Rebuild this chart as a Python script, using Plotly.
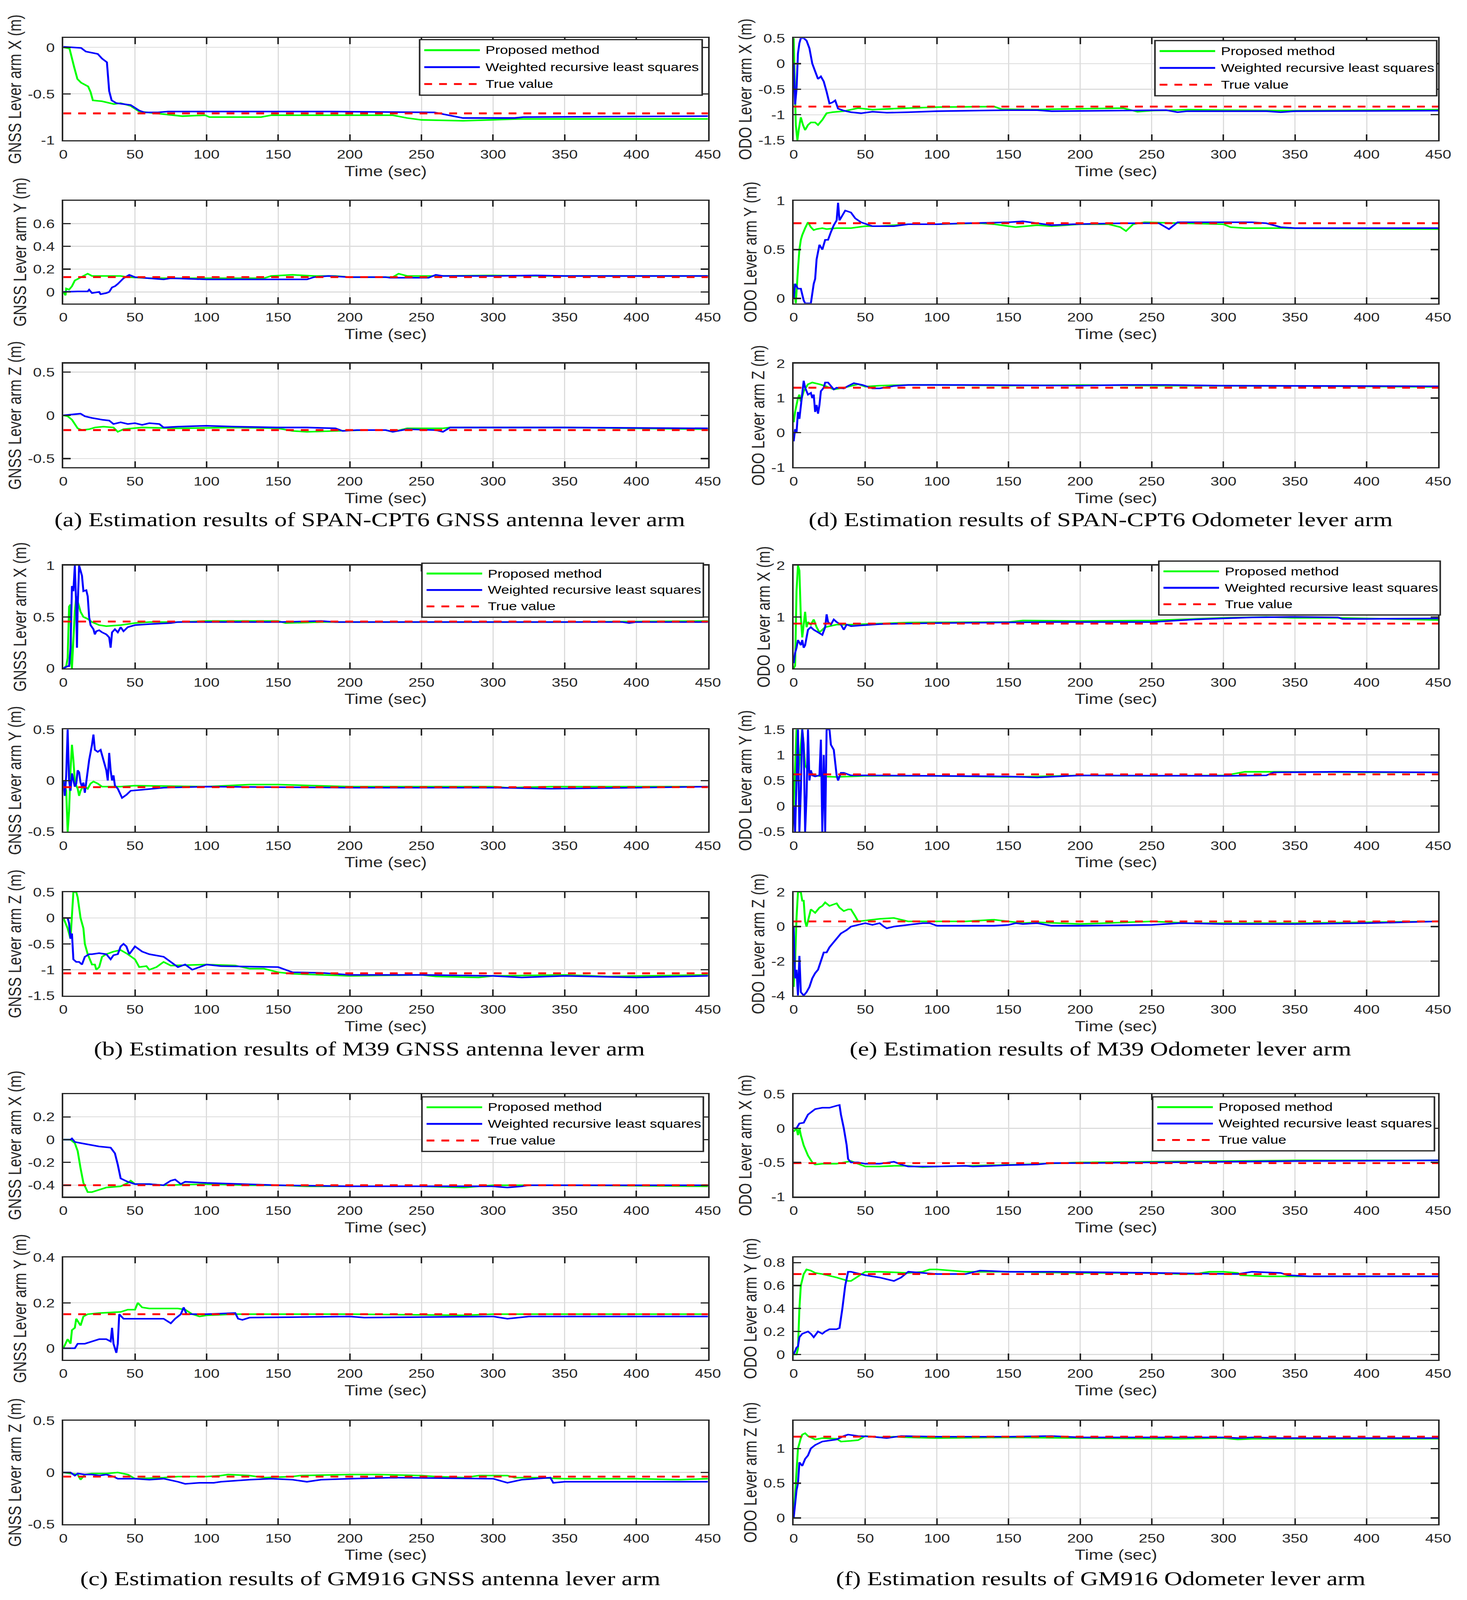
import plotly.graph_objects as go

W, H = 3756, 5089

# ---------------- data: (time s, value m) ----------------
# (a) SPAN-CPT6 GNSS antenna lever arm
a_x_prop = [(0, 0), (4.3, -0.013), (7.5, -0.21), (9.8, -0.34), (12.4, -0.38), (17.3, -0.42), (19, -0.48),
            (20.6, -0.57), (27, -0.58), (35.3, -0.61), (40, -0.6), (47, -0.63), (53, -0.69), (70, -0.72),
            (83, -0.74), (99, -0.73), (102, -0.75), (138, -0.75), (145, -0.73), (230, -0.73), (240, -0.76),
            (250, -0.78), (279, -0.79), (318, -0.77), (450, -0.77)]
a_x_wrls = [(0, 0.006), (12.4, -0.006), (15.7, -0.045), (24, -0.07), (27, -0.12), (30.4, -0.16), (32, -0.47),
            (33.7, -0.57), (37, -0.6), (47, -0.62), (53, -0.68), (56.6, -0.70), (66, -0.70), (73, -0.69),
            (122, -0.69), (187, -0.69), (259, -0.70), (266, -0.72), (279, -0.76), (315, -0.76), (321, -0.75),
            (450, -0.74)]
a_x_true = -0.71

a_y_prop = [(0, 0), (1.5, -0.03), (2, 0.03), (4, 0.02), (6, 0.05), (8, 0.1), (11, 0.12), (14, 0.14), (17, 0.16),
            (20, 0.14), (30, 0.14), (40, 0.14), (45, 0.13), (60, 0.12), (80, 0.12), (140, 0.12), (145, 0.14),
            (160, 0.15), (175, 0.14), (190, 0.14), (200, 0.13), (230, 0.13), (234, 0.16), (240, 0.14),
            (260, 0.14), (300, 0.145), (330, 0.14), (450, 0.14)]
a_y_wrls = [(0, 0), (10, 0.005), (17, 0.005), (18, 0.02), (20, -0.01), (25, 0), (26, -0.02), (30, -0.01), (32, 0),
            (34, 0.04), (36, 0.05), (38, 0.07), (42, 0.12), (46, 0.15), (50, 0.13), (60, 0.12), (70, 0.11),
            (75, 0.12), (100, 0.11), (140, 0.11), (170, 0.11), (175, 0.13), (185, 0.14), (200, 0.13), (225, 0.13),
            (228, 0.125), (255, 0.125), (260, 0.15), (265, 0.14), (300, 0.14), (330, 0.145), (350, 0.14),
            (450, 0.14)]
a_y_true = 0.13

a_z_prop = [(0, 0), (3, -0.01), (6, -0.05), (8, -0.1), (10, -0.15), (13, -0.17), (18, -0.16), (22, -0.14),
            (28, -0.13), (35, -0.14), (38, -0.19), (42, -0.16), (50, -0.15), (55, -0.14), (80, -0.15),
            (120, -0.14), (150, -0.15), (160, -0.18), (170, -0.19), (195, -0.18), (210, -0.17), (225, -0.17),
            (230, -0.19), (235, -0.17), (240, -0.15), (265, -0.15), (270, -0.14), (350, -0.14), (450, -0.16)]
a_z_wrls = [(0, 0), (5, 0.01), (12, 0.02), (15, -0.01), (20, -0.03), (27, -0.05), (32, -0.06), (35, -0.1),
            (40, -0.08), (45, -0.1), (50, -0.09), (55, -0.11), (60, -0.09), (67, -0.1), (70, -0.14), (80, -0.13),
            (100, -0.12), (120, -0.13), (150, -0.14), (170, -0.14), (190, -0.15), (195, -0.18), (205, -0.17),
            (225, -0.17), (230, -0.19), (240, -0.16), (260, -0.17), (265, -0.19), (270, -0.14), (350, -0.14),
            (450, -0.15)]
a_z_true = -0.17

# (d) SPAN-CPT6 odometer lever arm
d_x_prop = [(0, 0.5), (1.5, -1.2), (2.6, -1.5), (3.5, -1.3), (5, -1.05), (6.5, -1.2), (8, -1.3), (10, -1.2),
            (12, -1.15), (15, -1.15), (17, -1.2), (20, -1.1), (23, -0.97), (27, -0.95), (35, -0.93), (45, -0.87),
            (55, -0.9), (70, -0.88), (100, -0.85), (140, -0.84), (145, -0.89), (170, -0.9), (180, -0.89),
            (200, -0.88), (230, -0.87), (240, -0.94), (250, -0.92), (265, -0.91), (275, -0.9), (300, -0.91),
            (350, -0.92), (400, -0.91), (450, -0.9)]
d_x_wrls = [(0, 0), (1, -0.8), (2, -0.5), (3, 0.2), (4, 0.4), (5, 0.5), (7, 0.5), (9, 0.45), (11, 0.3), (13, 0.0),
            (15, -0.15), (17, -0.3), (19, -0.25), (21, -0.35), (23, -0.55), (25, -0.78), (27, -0.76), (29, -0.72),
            (31, -0.88), (35, -0.92), (40, -0.95), (47, -0.97), (55, -0.94), (65, -0.96), (80, -0.95),
            (100, -0.93), (150, -0.91), (170, -0.91), (180, -0.93), (230, -0.92), (260, -0.91), (268, -0.95),
            (275, -0.93), (330, -0.93), (340, -0.95), (350, -0.93), (450, -0.92)]
d_x_true = -0.84

d_y_prop = [(0, 0.15), (1.5, -0.05), (3, 0.3), (4, 0.5), (5, 0.6), (6, 0.65), (8, 0.72), (10, 0.78), (12, 0.73),
            (14, 0.7), (16, 0.71), (20, 0.72), (23, 0.71), (30, 0.72), (40, 0.72), (50, 0.74), (60, 0.74),
            (70, 0.75), (80, 0.76), (100, 0.76), (130, 0.77), (140, 0.76), (150, 0.74), (155, 0.73), (170, 0.75),
            (180, 0.74), (200, 0.76), (220, 0.76), (228, 0.73), (232, 0.69), (237, 0.76), (245, 0.78),
            (300, 0.76), (305, 0.73), (315, 0.72), (340, 0.72), (450, 0.71)]
d_y_wrls = [(0, 0), (1, 0.15), (3, 0.1), (5, 0.1), (7, -0.02), (8, -0.05), (12, -0.05), (14, 0.15), (15, 0.2),
            (16, 0.4), (18, 0.55), (20, 0.5), (22, 0.6), (24, 0.6), (26, 0.68), (28, 0.75), (30, 0.8), (31, 0.98),
            (32, 0.8), (34, 0.85), (36, 0.9), (40, 0.88), (43, 0.82), (47, 0.78), (55, 0.74), (70, 0.74),
            (80, 0.76), (100, 0.76), (120, 0.77), (150, 0.78), (160, 0.79), (170, 0.77), (180, 0.75), (195, 0.76),
            (230, 0.77), (255, 0.77), (262, 0.71), (268, 0.78), (320, 0.78), (330, 0.77), (340, 0.73),
            (350, 0.72), (450, 0.72)]
d_y_true = 0.77

d_z_prop = [(0, 0.3), (1, 0.6), (3, 1.0), (4, 1.1), (5, 0.9), (7, 1.2), (10, 1.4), (13, 1.45), (18, 1.4),
            (22, 1.35), (25, 1.3), (28, 1.25), (35, 1.3), (45, 1.4), (50, 1.33), (60, 1.36), (80, 1.38),
            (100, 1.38), (150, 1.36), (200, 1.38), (250, 1.36), (300, 1.36), (350, 1.35), (450, 1.32)]
d_z_wrls = [(0, -0.25), (1, 0.1), (2, 0.0), (3, 0.6), (4, 0.4), (5, 0.8), (6, 1.2), (7, 1.5), (8, 1.3), (10, 1.1),
            (12, 1.15), (13, 1.0), (14, 1.1), (15, 0.6), (16, 0.8), (17, 0.55), (18, 0.8), (19, 1.2), (21, 1.3),
            (22, 1.45), (24, 1.45), (26, 1.35), (28, 1.25), (30, 1.3), (35, 1.28), (38, 1.35), (42, 1.43),
            (48, 1.38), (55, 1.28), (60, 1.28), (65, 1.32), (70, 1.35), (80, 1.38), (120, 1.38), (200, 1.36),
            (230, 1.38), (260, 1.38), (300, 1.36), (450, 1.34)]
d_z_true = 1.30

# (b) M39 GNSS antenna lever arm
b_x_prop = [(0, 0), (2, 0.02), (3, 0.1), (4, 0.6), (5, 0.62), (5.5, 0.05), (6, 0), (7, 0.3), (8, 0.55), (9, 0.7),
            (10, 0.65), (12, 0.55), (14, 0.5), (17, 0.48), (20, 0.45), (25, 0.42), (30, 0.41), (40, 0.42),
            (50, 0.44), (60, 0.45), (80, 0.45), (100, 0.46), (150, 0.46), (155, 0.44), (180, 0.45), (250, 0.45),
            (350, 0.45), (450, 0.46)]
b_x_wrls = [(0, 0), (3, 0.02), (4, 0.02), (5, 0.2), (6, 0.8), (7, 0.75), (8, 1.0), (9, 0.6), (9.5, 0.2), (10, 0.6),
            (11, 1.0), (12, 0.95), (13, 0.9), (14, 0.75), (16, 0.76), (17, 0.7), (18, 0.5), (19, 0.42), (21, 0.38),
            (22, 0.33), (23, 0.36), (25, 0.37), (27, 0.35), (30, 0.33), (32, 0.3), (33, 0.2), (34, 0.35),
            (36, 0.38), (38, 0.35), (40, 0.4), (42, 0.36), (45, 0.4), (50, 0.42), (60, 0.43), (75, 0.44),
            (80, 0.45), (150, 0.45), (180, 0.46), (190, 0.45), (390, 0.45), (395, 0.44), (400, 0.45), (450, 0.45)]
b_x_true = 0.455

b_y_prop = [(0, 0), (2, -0.1), (3, -0.5), (4, -0.3), (5, 0.1), (6, 0.35), (7, 0.2), (8, 0.0), (9, -0.05),
            (10, -0.08), (11, -0.15), (12, -0.1), (14, -0.05), (17, -0.08), (19, -0.03), (21, -0.01), (24, -0.03),
            (27, -0.06), (40, -0.06), (50, -0.05), (100, -0.06), (130, -0.04), (150, -0.04), (200, -0.06),
            (300, -0.06), (310, -0.07), (340, -0.06), (450, -0.06)]
b_y_wrls = [(0, 0), (1, -0.15), (2, 0.05), (3, 0.5), (4, 0.0), (5, -0.1), (6, 0.07), (7, 0.0), (8, -0.06),
            (9, -0.03), (10, 0.1), (11, 0.08), (12, -0.02), (13, -0.06), (14, -0.02), (15, -0.12), (16, 0.0),
            (17, 0.1), (18, 0.2), (20, 0.35), (21, 0.45), (22, 0.3), (24, 0.28), (26, 0.3), (27, 0.25), (29, 0.15),
            (30, 0.1), (31, 0.0), (32, 0.27), (33, 0.1), (34, 0.0), (35, 0.05), (36, -0.05), (38, -0.08),
            (41, -0.17), (44, -0.14), (47, -0.1), (55, -0.09), (70, -0.07), (100, -0.06), (200, -0.07),
            (300, -0.07), (340, -0.08), (400, -0.07), (450, -0.06)]
b_y_true = -0.065

b_z_prop = [(0, 0), (3, -0.2), (5, -0.4), (6, 0), (7, 0.5), (9, 0.5), (10, 0.4), (12, 0.0), (14, -0.2), (15, -0.5),
            (17, -0.7), (20, -0.9), (22, -0.9), (23, -1.0), (25, -0.95), (27, -0.75), (30, -0.7), (35, -0.65),
            (40, -0.62), (45, -0.7), (50, -0.8), (53, -0.95), (58, -0.93), (60, -1.0), (65, -0.95), (70, -0.85),
            (75, -0.92), (100, -0.9), (120, -0.92), (130, -0.98), (140, -0.98), (150, -1.05), (160, -1.08),
            (200, -1.12), (250, -1.1), (260, -1.13), (290, -1.15), (300, -1.12), (350, -1.1), (380, -1.13),
            (450, -1.1)]
b_z_wrls = [(0, 0), (3, 0.0), (4, -0.1), (5, -0.4), (6, -0.3), (7, -0.8), (9, -0.85), (11, -0.85), (13, -0.9),
            (15, -0.75), (18, -0.7), (20, -0.7), (25, -0.68), (30, -0.7), (33, -0.8), (35, -0.72), (38, -0.7),
            (40, -0.55), (42, -0.5), (44, -0.55), (46, -0.7), (50, -0.55), (55, -0.65), (60, -0.7), (70, -0.75),
            (75, -0.85), (80, -0.95), (85, -0.9), (90, -1.0), (95, -0.95), (100, -0.9), (110, -0.93),
            (150, -0.95), (160, -1.05), (180, -1.06), (200, -1.1), (250, -1.1), (300, -1.12), (320, -1.15),
            (350, -1.12), (400, -1.15), (450, -1.12)]
b_z_true = -1.07

# (e) M39 odometer lever arm
e_x_prop = [(0, 0), (1, 0.05), (2, 1.5), (3, 2.0), (4, 1.9), (5, 1.0), (6, 0.6), (7, 0.9), (8, 1.1), (9, 0.8),
            (10, 0.9), (12, 0.85), (14, 0.95), (16, 0.8), (18, 0.7), (22, 0.8), (30, 0.85), (40, 0.85),
            (50, 0.86), (80, 0.89), (150, 0.9), (160, 0.93), (200, 0.92), (250, 0.93), (270, 0.95), (300, 0.98),
            (330, 1.0), (350, 0.98), (380, 0.98), (400, 0.97), (440, 0.95), (450, 0.94)]
e_x_wrls = [(0, 0.1), (1, 0.3), (2, 0.4), (3, 0.55), (4, 0.5), (5, 0.45), (6, 0.55), (7, 0.4), (8, 0.45),
            (10, 0.75), (12, 0.8), (14, 0.75), (17, 0.7), (20, 0.65), (22, 0.8), (23, 1.05), (24, 0.9), (26, 0.85),
            (28, 0.95), (30, 0.9), (33, 0.85), (35, 0.75), (37, 0.85), (40, 0.82), (50, 0.84), (60, 0.86),
            (100, 0.88), (150, 0.89), (180, 0.9), (250, 0.9), (280, 0.95), (320, 0.99), (350, 1.0), (380, 0.99),
            (383, 0.96), (400, 0.96), (450, 0.97)]
e_x_true = 0.87

e_y_prop = [(0, 0), (1, 0.8), (2, 1.5), (3, 0.5), (4, 0.9), (5, 1.2), (6, 1.5), (7, 1.2), (8, 0.8), (10, 0.7),
            (12, 0.65), (15, 0.6), (20, 0.58), (30, 0.57), (40, 0.58), (50, 0.59), (100, 0.59), (150, 0.57),
            (170, 0.58), (200, 0.6), (250, 0.59), (300, 0.6), (305, 0.62), (315, 0.67), (340, 0.67), (400, 0.66),
            (450, 0.66)]
e_y_wrls = [(0, 0.0), (1, -0.5), (2, 0.5), (3, 1.5), (4, -0.5), (5, 0.3), (6, 1.5), (7, 1.2), (8, -0.5), (9, 0.2),
            (10, 1.5), (11, 0.5), (12, 0.7), (13, 0.6), (15, 0.58), (18, 0.6), (19, 1.3), (20, -0.5), (21, 1.0),
            (22, -0.5), (23, 1.5), (25, 1.5), (26, 1.2), (28, 1.1), (30, 0.6), (31, 0.5), (33, 0.65), (35, 0.65),
            (40, 0.6), (50, 0.6), (100, 0.59), (150, 0.58), (170, 0.56), (200, 0.6), (300, 0.59), (330, 0.6),
            (335, 0.66), (380, 0.67), (450, 0.66)]
e_y_true = 0.62

e_z_prop = [(0, -3.5), (1, -2), (2, 0.5), (3, 2.0), (5, 2.0), (6, 1.5), (7, 1.5), (8, 0.3), (9, 0), (10, 0.3),
            (12, 1.0), (15, 0.8), (18, 1.1), (20, 1.2), (22, 1.4), (25, 1.2), (28, 1.3), (30, 1.35), (32, 1.1),
            (35, 0.9), (38, 1.0), (40, 1.0), (43, 0.6), (45, 0.3), (50, 0.35), (55, 0.4), (60, 0.45), (70, 0.5),
            (75, 0.4), (80, 0.3), (100, 0.3), (120, 0.3), (140, 0.4), (150, 0.3), (160, 0.2), (170, 0.25),
            (200, 0.15), (250, 0.3), (275, 0.2), (300, 0.2), (350, 0.2), (400, 0.25), (450, 0.3)]
e_z_wrls = [(0, 0), (1, -3), (2, -2.5), (3, -4), (4, -1.7), (5, -3.8), (7, -4), (9, -3.8), (11, -3.5), (13, -3.0),
            (15, -2.7), (17, -2.5), (19, -2.0), (21, -1.5), (23, -1.5), (25, -1.2), (27, -1.0), (30, -0.7),
            (33, -0.4), (37, -0.2), (40, 0), (45, 0.1), (50, 0.2), (55, 0.1), (60, 0.2), (63, 0.0), (65, -0.1),
            (70, 0.0), (80, 0.1), (90, 0.2), (95, 0.2), (100, 0.05), (140, 0.05), (150, 0.1), (155, 0.2),
            (160, 0.15), (170, 0.2), (180, 0.05), (200, 0.05), (250, 0.1), (270, 0.2), (300, 0.15), (350, 0.15),
            (400, 0.2), (450, 0.3)]
e_z_true = 0.3

# (c) GM916 GNSS antenna lever arm
c_x_prop = [(0, 0), (5, 0), (8, -0.03), (10, -0.1), (12, -0.25), (14, -0.38), (17, -0.46), (20, -0.46),
            (25, -0.44), (30, -0.42), (40, -0.41), (45, -0.38), (47, -0.36), (50, -0.39), (60, -0.39), (70, -0.4),
            (100, -0.39), (130, -0.4), (150, -0.4), (170, -0.41), (250, -0.41), (280, -0.42), (300, -0.4),
            (350, -0.4), (450, -0.41)]
c_x_wrls = [(0, 0), (5, 0), (6, 0.01), (8, -0.02), (12, -0.03), (20, -0.05), (25, -0.06), (33, -0.07),
            (36, -0.12), (38, -0.22), (40, -0.34), (45, -0.37), (50, -0.39), (60, -0.39), (70, -0.4), (75, -0.36),
            (78, -0.35), (82, -0.39), (85, -0.37), (100, -0.38), (125, -0.39), (150, -0.4), (200, -0.41),
            (300, -0.41), (310, -0.42), (320, -0.41), (325, -0.4), (450, -0.4)]
c_x_true = -0.4

c_y_prop = [(0, 0), (3, 0.04), (5, 0.02), (6, 0.08), (8, 0.09), (9, 0.13), (10, 0.12), (12, 0.1), (14, 0.14),
            (17, 0.15), (25, 0.155), (40, 0.16), (45, 0.17), (50, 0.17), (52, 0.2), (55, 0.18), (60, 0.175),
            (80, 0.175), (85, 0.17), (90, 0.15), (95, 0.14), (100, 0.145), (120, 0.15), (200, 0.15),
            (280, 0.145), (300, 0.15), (450, 0.15)]
c_y_wrls = [(0, 0), (8, 0.0), (10, 0.02), (15, 0.02), (20, 0.03), (25, 0.04), (30, 0.04), (33, 0.03), (34, 0.09),
            (35, 0.02), (37, -0.02), (38, 0.02), (39, 0.15), (42, 0.13), (70, 0.13), (75, 0.11), (78, 0.13),
            (80, 0.14), (82, 0.15), (84, 0.18), (86, 0.15), (100, 0.15), (120, 0.155), (122, 0.13), (125, 0.125),
            (130, 0.135), (200, 0.14), (210, 0.135), (300, 0.14), (310, 0.13), (325, 0.14), (450, 0.14)]
c_y_true = 0.15

c_z_prop = [(0, 0), (5, -0.01), (10, -0.02), (12, -0.07), (15, -0.02), (20, -0.01), (30, -0.01), (38, 0.0),
            (45, -0.02), (50, -0.06), (70, -0.05), (80, -0.04), (100, -0.04), (110, -0.03), (115, -0.02),
            (130, -0.03), (140, -0.05), (160, -0.04), (165, -0.03), (200, -0.02), (220, -0.02), (250, -0.03),
            (260, -0.04), (280, -0.05), (290, -0.03), (310, -0.03), (315, -0.05), (330, -0.05), (350, -0.06),
            (400, -0.06), (430, -0.07), (450, -0.06)]
c_z_wrls = [(0, 0), (5, 0.0), (8, -0.03), (10, -0.01), (15, -0.02), (20, -0.02), (25, -0.03), (30, -0.02),
            (35, -0.04), (38, -0.06), (50, -0.06), (60, -0.07), (70, -0.06), (80, -0.09), (85, -0.11), (95, -0.1),
            (105, -0.1), (110, -0.09), (130, -0.07), (145, -0.06), (160, -0.07), (170, -0.09), (180, -0.07),
            (200, -0.06), (230, -0.05), (300, -0.06), (310, -0.1), (320, -0.07), (340, -0.05), (342, -0.1),
            (350, -0.09), (450, -0.09)]
c_z_true = -0.04

# (f) GM916 odometer lever arm
f_x_prop = [(0, -0.05), (2, 0), (3, -0.1), (4, 0), (5, -0.1), (7, -0.25), (10, -0.4), (13, -0.5), (15, -0.53),
            (20, -0.52), (30, -0.52), (35, -0.5), (40, -0.48), (45, -0.52), (50, -0.56), (60, -0.56), (70, -0.55),
            (80, -0.55), (90, -0.57), (100, -0.56), (120, -0.55), (140, -0.54), (160, -0.53), (200, -0.5),
            (250, -0.49), (300, -0.48), (350, -0.47), (450, -0.47)]
f_x_wrls = [(0, 0), (2, 0), (4, 0.07), (7, 0.08), (10, 0.2), (15, 0.28), (20, 0.3), (25, 0.3), (30, 0.33),
            (32, 0.34), (33, 0.2), (35, 0.0), (37, -0.25), (38, -0.45), (40, -0.5), (45, -0.5), (50, -0.52),
            (60, -0.52), (70, -0.49), (75, -0.53), (80, -0.56), (100, -0.56), (120, -0.55), (125, -0.56),
            (150, -0.54), (170, -0.53), (180, -0.51), (200, -0.51), (250, -0.5), (300, -0.49), (350, -0.48),
            (450, -0.47)]
f_x_true = -0.51

f_y_prop = [(0, 0), (2, 0), (3, 0.05), (4, 0.4), (5, 0.6), (7, 0.7), (9, 0.74), (12, 0.73), (15, 0.71), (20, 0.7),
            (30, 0.67), (35, 0.65), (38, 0.64), (40, 0.64), (45, 0.68), (50, 0.72), (60, 0.72), (80, 0.71),
            (90, 0.72), (95, 0.74), (100, 0.74), (110, 0.73), (120, 0.72), (150, 0.72), (200, 0.71), (250, 0.71),
            (270, 0.7), (280, 0.7), (290, 0.72), (300, 0.72), (310, 0.71), (312, 0.69), (330, 0.68), (450, 0.68)]
f_y_wrls = [(0, 0), (2, 0.06), (3, 0.07), (4, 0.15), (6, 0.18), (10, 0.2), (12, 0.18), (14, 0.15), (17, 0.2),
            (20, 0.18), (22, 0.2), (25, 0.22), (30, 0.22), (32, 0.23), (34, 0.4), (36, 0.6), (38, 0.72),
            (40, 0.72), (50, 0.69), (60, 0.67), (70, 0.64), (75, 0.67), (80, 0.72), (90, 0.71), (100, 0.7),
            (120, 0.7), (130, 0.73), (150, 0.72), (180, 0.72), (250, 0.71), (300, 0.7), (310, 0.7), (320, 0.72),
            (340, 0.71), (345, 0.69), (360, 0.68), (450, 0.68)]
f_y_true = 0.70

f_z_prop = [(0, 0), (1, 0.3), (2, 0.7), (3, 1.0), (5, 1.15), (6, 1.2), (8, 1.22), (10, 1.18), (15, 1.13),
            (20, 1.15), (30, 1.14), (33, 1.1), (40, 1.11), (45, 1.12), (50, 1.18), (60, 1.16), (70, 1.17),
            (80, 1.16), (100, 1.15), (150, 1.16), (200, 1.15), (270, 1.14), (300, 1.15), (310, 1.13),
            (320, 1.14), (450, 1.14)]
f_z_wrls = [(0, 0), (1, 0.2), (2, 0.4), (3, 0.5), (4, 0.8), (6, 0.75), (8, 0.85), (10, 0.9), (12, 1.0),
            (15, 1.05), (20, 1.1), (30, 1.13), (35, 1.18), (38, 1.2), (45, 1.18), (55, 1.17), (65, 1.15),
            (75, 1.18), (100, 1.17), (150, 1.17), (180, 1.18), (200, 1.16), (300, 1.16), (310, 1.15),
            (320, 1.16), (340, 1.15), (450, 1.15)]
f_z_true = 1.17

time_ticks = [0, 50, 100, 150, 200, 250, 300, 350, 400, 450]
legend_names = ["Proposed method", "Weighted recursive least squares", "True value"]
captions = ["(a) Estimation results of SPAN-CPT6 GNSS antenna lever arm",
            "(d) Estimation results of SPAN-CPT6 Odometer lever arm",
            "(b) Estimation results of M39 GNSS antenna lever arm",
            "(e) Estimation results of M39 Odometer lever arm",
            "(c) Estimation results of GM916 GNSS antenna lever arm",
            "(f) Estimation results of GM916 Odometer lever arm"]

# panels: (row, col, y label, y range, y ticks, proposed, wrls, true)
panels = [
    (0, 0, "GNSS Lever arm X (m)", [-1, 0.1], [-1, -0.5, 0], a_x_prop, a_x_wrls, a_x_true),
    (1, 0, "GNSS Lever arm Y (m)", [-0.1, 0.8], [0, 0.2, 0.4, 0.6], a_y_prop, a_y_wrls, a_y_true),
    (2, 0, "GNSS Lever arm Z (m)", [-0.6, 0.6], [-0.5, 0, 0.5], a_z_prop, a_z_wrls, a_z_true),
    (0, 1, "ODO Lever arm X (m)", [-1.5, 0.5], [-1.5, -1, -0.5, 0, 0.5], d_x_prop, d_x_wrls, d_x_true),
    (1, 1, "ODO Lever arm Y (m)", [-0.05, 1], [0, 0.5, 1], d_y_prop, d_y_wrls, d_y_true),
    (2, 1, "ODO Lever arm Z (m)", [-1, 2], [-1, 0, 1, 2], d_z_prop, d_z_wrls, d_z_true),
    (3, 0, "GNSS Lever arm X (m)", [0, 1], [0, 0.5, 1], b_x_prop, b_x_wrls, b_x_true),
    (4, 0, "GNSS Lever arm Y (m)", [-0.5, 0.5], [-0.5, 0, 0.5], b_y_prop, b_y_wrls, b_y_true),
    (5, 0, "GNSS Lever arm Z (m)", [-1.5, 0.5], [-1.5, -1, -0.5, 0, 0.5], b_z_prop, b_z_wrls, b_z_true),
    (3, 1, "ODO Lever arm X (m)", [0, 2], [0, 1, 2], e_x_prop, e_x_wrls, e_x_true),
    (4, 1, "ODO Lever arm Y (m)", [-0.5, 1.5], [-0.5, 0, 0.5, 1, 1.5], e_y_prop, e_y_wrls, e_y_true),
    (5, 1, "ODO Lever arm Z (m)", [-4, 2], [-4, -2, 0, 2], e_z_prop, e_z_wrls, e_z_true),
    (6, 0, "GNSS Lever arm X (m)", [-0.5, 0.4], [-0.4, -0.2, 0, 0.2], c_x_prop, c_x_wrls, c_x_true),
    (7, 0, "GNSS Lever arm Y (m)", [-0.05, 0.4], [0, 0.2, 0.4], c_y_prop, c_y_wrls, c_y_true),
    (8, 0, "GNSS Lever arm Z (m)", [-0.5, 0.5], [-0.5, 0, 0.5], c_z_prop, c_z_wrls, c_z_true),
    (6, 1, "ODO Lever arm X (m)", [-1, 0.5], [-1, -0.5, 0, 0.5], f_x_prop, f_x_wrls, f_x_true),
    (7, 1, "ODO Lever arm Y (m)", [-0.045, 0.845], [0, 0.2, 0.4, 0.6, 0.8], f_y_prop, f_y_wrls, f_y_true),
    (8, 1, "ODO Lever arm Z (m)", [-0.09, 1.4], [0, 0.5, 1], f_z_prop, f_z_wrls, f_z_true),
]

# ---------------- layout geometry (pixels of the 3756x5089 page) ----------------
row_px = [(100, 428), (622, 951), (1144, 1477), (1792, 2122), (2318, 2646), (2840, 3172),
          (3488, 3817), (4012, 4340), (4536, 4868)]
col_px = [(153, 1823), (2045, 3715)]
legend_px = {(0, 0): (1076, 1808, 105, 283), (0, 1): (2981, 3711, 108, 285),
             (3, 0): (1082, 1811, 1785, 1958), (3, 1): (2991, 3720, 1778, 1951),
             (6, 0): (1082, 1811, 3497, 3672), (6, 1): (2975, 3705, 3497, 3670)}
caption_px = [(947, 1645), (2840, 1645), (946, 3342), (2840, 3342), (948, 5042), (2840, 5042)]

GREEN, BLUE, RED, AX = "#00ff00", "#0000ff", "#ff0000", "#262626"
SANS = "Liberation Sans, Arial, sans-serif"
SERIF = "Liberation Serif, Times New Roman, serif"


def px(x):
    return x / W


def py(y):
    return 1 - y / H


fig = go.Figure()
shapes, annotations = [], []

for i, (row, col, ylab, yr, yt, prop, wrls, truth) in enumerate(panels):
    n = "" if i == 0 else str(i + 1)

    for pts, color in ((prop, GREEN), (wrls, BLUE)):
        fig.add_trace(go.Scatter(x=[p[0] for p in pts], y=[p[1] for p in pts], mode="lines",
                                 line=dict(color=color, width=5), xaxis="x" + n, yaxis="y" + n,
                                 showlegend=False, hoverinfo="skip"))
    fig.add_trace(go.Scatter(x=[time_ticks[0], time_ticks[-1]], y=[truth, truth], mode="lines",
                             line=dict(color=RED, width=6, dash="20px,18px"), xaxis="x" + n, yaxis="y" + n,
                             showlegend=False, hoverinfo="skip"))

    common = dict(showline=True, linecolor=AX, linewidth=4, mirror="ticks", ticks="inside", ticklen=19,
                  tickwidth=4, tickcolor=AX, showgrid=True, gridcolor="#dcdcdc", gridwidth=3, zeroline=False,
                  tickfont=dict(family=SANS, size=40, color=AX))
    fig.update_layout({
        "xaxis" + n: dict(common, domain=[px(col_px[col][0]), px(col_px[col][1])], anchor="y" + n,
                          range=[0, 450], tickvals=time_ticks, ticktext=[str(t) for t in time_ticks],
                          ticklabelstandoff=6,
                          title=dict(text="Time (sec)", font=dict(family=SANS, size=45, color=AX), standoff=18)),
        "yaxis" + n: dict(common, domain=[py(row_px[row][1]), py(row_px[row][0])], anchor="x" + n,
                          range=yr, tickvals=yt, ticktext=[f"{v:g}" for v in yt], ticklabelstandoff=10,
                          title=dict(text=ylab, font=dict(family=SANS, size=46, color=AX), standoff=3)),
    })

    if (row, col) in legend_px:
        x0, x1, y0, y1 = legend_px[(row, col)]
        shapes.append(dict(type="rect", xref="paper", yref="paper", x0=px(x0), x1=px(x1), y0=py(y1), y1=py(y0),
                           line=dict(color=AX, width=4), fillcolor="white", layer="above"))
        for k, (name, color) in enumerate(zip(legend_names, (GREEN, BLUE, RED))):
            yy = y0 + (y1 - y0) * (0.19 + 0.305 * k)
            shapes.append(dict(type="line", xref="paper", yref="paper", x0=px(x0 + 12), x1=px(x0 + 156),
                               y0=py(yy), y1=py(yy), layer="above",
                               line=dict(color=color, width=6, dash="20px,18px" if k == 2 else "solid")))
            annotations.append(dict(xref="paper", yref="paper", x=px(x0 + 169), y=py(yy), text=name,
                                    showarrow=False, xanchor="left", yanchor="middle",
                                    font=dict(family=SANS, size=37, color="black")))

for (cx, cy), text in zip(caption_px, captions):
    annotations.append(dict(xref="paper", yref="paper", x=px(cx), y=py(cy), text=text, showarrow=False,
                            xanchor="center", yanchor="middle",
                            font=dict(family=SERIF, size=64, color="black")))

fig.update_layout(width=W, height=H, margin=dict(l=0, r=0, t=0, b=0), paper_bgcolor="white",
                  plot_bgcolor="white", showlegend=False, shapes=shapes, annotations=annotations)

# the browser viewport can be shorter than the page: squeeze the page to fit it
fit_page = ("document.documentElement.style.overflow='hidden';document.body.style.margin='0';"
            "var gd=document.getElementById('{plot_id}');"
            "var s=Math.min(1, window.innerHeight/" + str(H) + ");"
            "gd.style.transformOrigin='0 0';gd.style.transform='scale(1,'+s+')';")
fig.write_html("out.html", post_script=fit_page, config={"displayModeBar": False})
